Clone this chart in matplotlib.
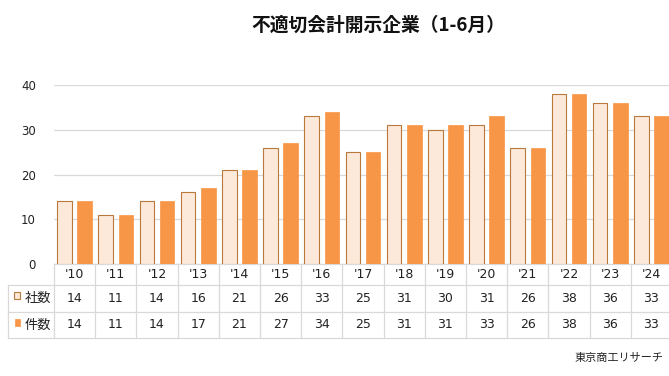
import matplotlib
matplotlib.use('Agg')
import matplotlib.pyplot as plt
from matplotlib.transforms import blended_transform_factory
from matplotlib.lines import Line2D
from matplotlib.patches import Rectangle
import numpy as np

years = ["'10", "'11", "'12", "'13", "'14", "'15", "'16", "'17", "'18", "'19",
         "'20", "'21", "'22", "'23", "'24"]
shasu = [14, 11, 14, 16, 21, 26, 33, 25, 31, 30, 31, 26, 38, 36, 33]
kensu = [14, 11, 14, 17, 21, 27, 34, 25, 31, 31, 33, 26, 38, 36, 33]
series_names = ["社数", "件数"]
title = "不適切会計開示企業（1-6月）"
source = "東京商工リサーチ"

plt.rcParams['font.family'] = ['DejaVu Sans', 'Noto Sans CJK JP']

W, H = 669, 376
fig = plt.figure(figsize=(W / 100, H / 100), dpi=100)
fig.patch.set_facecolor('white')

def fx(px):
    return px / W

def fy(py):
    return 1 - py / H

light = '#FDE9D9'
light_edge = '#B9783C'
orange = '#F79646'
grid_c = '#D9D9D9'
txt_c = '#222222'

ax = fig.add_axes([fx(54), fy(264), fx(672) - fx(54), fy(85) - fy(264)])
ax.set_xlim(-0.5, len(years) - 0.5)
ax.set_ylim(0, 40)
x = np.arange(len(years))
ax.bar(x - 0.245, shasu, width=0.35, color=light, edgecolor=light_edge, linewidth=0.8, zorder=3)
ax.bar(x + 0.245, kensu, width=0.35, color=orange, edgecolor=orange, linewidth=0.5, zorder=3)
ax.set_yticks([0, 10, 20, 30, 40])
ax.yaxis.grid(True, color=grid_c, linewidth=0.9)
ax.set_axisbelow(True)
for s in ['left', 'right', 'top']:
    ax.spines[s].set_visible(False)
ax.spines['bottom'].set_color(grid_c)
ax.spines['bottom'].set_linewidth(0.9)
ax.set_xticks([])
ax.tick_params(axis='y', length=0, pad=13, labelsize=8.5, labelcolor=txt_c)

# data table
trans = blended_transform_factory(ax.transData, fig.transFigure)
for i in range(len(years) + 1):
    fig.add_artist(Line2D([i - 0.5, i - 0.5], [fy(264), fy(338)], transform=trans,
                          color=grid_c, linewidth=0.9, clip_on=False))
for py in [285, 312, 338]:
    fig.add_artist(Line2D([fx(8), 1.0], [fy(py), fy(py)], transform=fig.transFigure,
                          color=grid_c, linewidth=0.9))
fig.add_artist(Line2D([fx(8), fx(8)], [fy(285), fy(338)], transform=fig.transFigure,
                      color=grid_c, linewidth=0.9))

for i, yr in enumerate(years):
    fig.text(i, fy(274.5), yr, transform=trans, ha='center', va='center',
             fontsize=9, color=txt_c)
    fig.text(i, fy(298.5), str(shasu[i]), transform=trans, ha='center', va='center',
             fontsize=9, color=txt_c)
    fig.text(i, fy(325), str(kensu[i]), transform=trans, ha='center', va='center',
             fontsize=9, color=txt_c)

# row labels with legend squares
fig.add_artist(Rectangle((fx(13.5), fy(299)), fx(6.5), fy(292) - fy(299), transform=fig.transFigure,
                         facecolor=light, edgecolor=light_edge, linewidth=0.8))
fig.add_artist(Rectangle((fx(14.5), fy(325.5)), fx(5.5), fy(318.5) - fy(325.5), transform=fig.transFigure,
                         facecolor=orange, edgecolor=orange, linewidth=0.5))
fig.text(fx(38), fy(298.5), series_names[0], ha='center', va='center', fontsize=9.5,
         color=txt_c, family='Noto Sans CJK JP')
fig.text(fx(38), fy(325), series_names[1], ha='center', va='center', fontsize=9.5,
         color=txt_c, family='Noto Sans CJK JP')

fig.text(fx(378), fy(25), title, ha='center', va='center', fontsize=13.5,
         fontweight='bold', color='#111111', family='Noto Sans CJK JP')
fig.text(fx(664), fy(358), source, ha='right', va='center', fontsize=8,
         color=txt_c, family='Noto Sans CJK JP')

fig.savefig('out.png', dpi=100, facecolor='white')
